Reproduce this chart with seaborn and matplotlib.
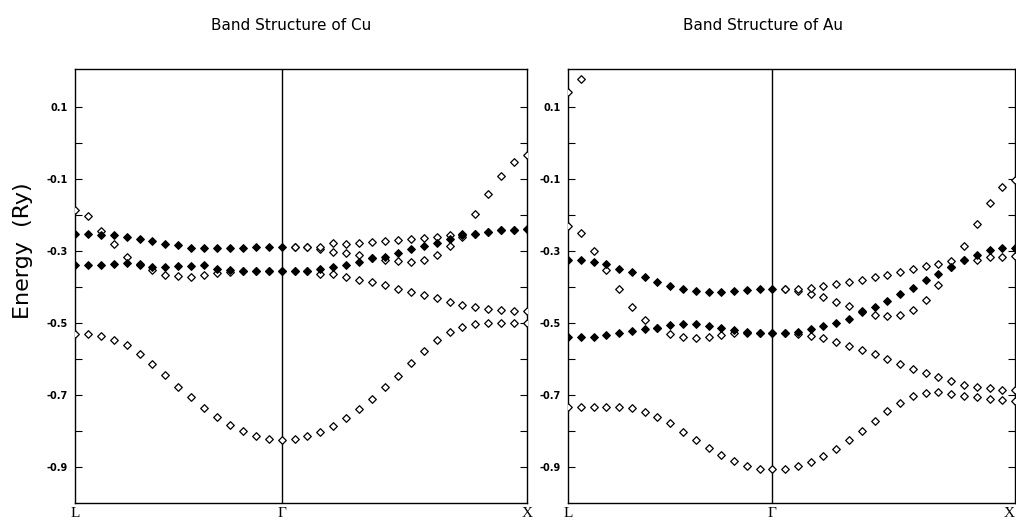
import matplotlib
matplotlib.use("Agg")
import numpy as np
import pandas as pd
import matplotlib.pyplot as plt
import seaborn as sns

# -------------------------
# k-point index along L -> Gamma -> X (Gamma at 16, X at 35)
# -------------------------
k_lg = list(range(0, 17))
k_gx = list(range(17, 36))
k_ticks = [0, 16, 35]
k_labels = ["L", "Γ", "X"]

y_major = [0.1, -0.1, -0.3, -0.5, -0.7, -0.9]
y_minor = [0.0, -0.2, -0.4, -0.6, -0.8]

# -------------------------
# Cu bands (Ry)
# -------------------------
cu_lg_1 = [-0.532, -0.532, -0.537, -0.546, -0.562, -0.585, -0.613, -0.644, -0.677,
           -0.707, -0.736, -0.762, -0.782, -0.800, -0.813, -0.821, -0.824]
cu_lg_2 = [-0.339, -0.339, -0.339, -0.337, -0.333, -0.338, -0.345, -0.346, -0.342,
           -0.341, -0.340, -0.349, -0.352, -0.356, -0.356, -0.356, -0.356]
cu_lg_3 = [-0.187, -0.204, -0.245, -0.282, -0.317, -0.335, -0.352, -0.367, -0.370,
           -0.372, -0.367, -0.360, -0.358, -0.356, -0.356, -0.356, -0.356]
cu_lg_4 = [-0.252, -0.252, -0.255, -0.256, -0.261, -0.268, -0.273, -0.280, -0.284,
           -0.291, -0.291, -0.291, -0.291, -0.291, -0.288, -0.288, -0.289]

cu_gx_1 = [-0.822, -0.814, -0.803, -0.786, -0.765, -0.740, -0.711, -0.679, -0.647, -0.612,
           -0.578, -0.548, -0.526, -0.512, -0.504, -0.501, -0.501, -0.500, -0.500]
cu_gx_2 = [-0.356, -0.356, -0.363, -0.363, -0.372, -0.380, -0.386, -0.395, -0.405, -0.414,
           -0.423, -0.432, -0.442, -0.451, -0.456, -0.462, -0.465, -0.468, -0.468]
cu_gx_3 = [-0.356, -0.356, -0.349, -0.344, -0.340, -0.331, -0.321, -0.317, -0.307, -0.296,
           -0.287, -0.279, -0.267, -0.256, -0.252, -0.247, -0.243, -0.241, -0.238]
cu_gx_4 = [-0.289, -0.289, -0.296, -0.303, -0.307, -0.312, -0.321, -0.326, -0.329, -0.331,
           -0.326, -0.312, -0.287, -0.262, -0.252, -0.247, -0.243, -0.241, -0.238]
cu_gx_5 = [-0.289, -0.289, -0.289, -0.278, -0.281, -0.278, -0.275, -0.273, -0.269, -0.266,
           -0.263, -0.261, -0.256, -0.254, -0.198, -0.143, -0.093, -0.053, -0.034]

# -------------------------
# Au bands (Ry)
# -------------------------
au_lg_1 = [-0.733, -0.733, -0.733, -0.733, -0.733, -0.737, -0.747, -0.761, -0.779,
           -0.803, -0.826, -0.847, -0.868, -0.884, -0.896, -0.905, -0.906]
au_lg_2 = [-0.540, -0.540, -0.539, -0.534, -0.528, -0.523, -0.518, -0.515, -0.506,
           -0.504, -0.504, -0.508, -0.514, -0.520, -0.524, -0.528, -0.528]
au_lg_3 = [-0.231, -0.250, -0.300, -0.354, -0.407, -0.456, -0.491, -0.515, -0.531,
           -0.539, -0.542, -0.540, -0.534, -0.528, -0.528, -0.528, -0.528]
au_lg_4 = [-0.326, -0.326, -0.331, -0.337, -0.349, -0.359, -0.372, -0.385, -0.398,
           -0.407, -0.411, -0.414, -0.414, -0.411, -0.409, -0.407, -0.407]
au_lg_5 = [0.142, 0.176]

au_gx_1 = [-0.905, -0.898, -0.886, -0.869, -0.850, -0.826, -0.800, -0.772, -0.744, -0.721,
           -0.704, -0.695, -0.693, -0.697, -0.702, -0.706, -0.711, -0.715, -0.717]
au_gx_2 = [-0.528, -0.530, -0.537, -0.543, -0.553, -0.564, -0.576, -0.587, -0.601, -0.614,
           -0.627, -0.640, -0.650, -0.661, -0.671, -0.678, -0.682, -0.685, -0.686]
au_gx_3 = [-0.528, -0.526, -0.518, -0.509, -0.500, -0.488, -0.470, -0.456, -0.439, -0.420,
           -0.402, -0.381, -0.363, -0.344, -0.326, -0.312, -0.298, -0.293, -0.293]
au_gx_4 = [-0.407, -0.410, -0.421, -0.429, -0.443, -0.454, -0.467, -0.477, -0.480, -0.477,
           -0.465, -0.437, -0.395, -0.344, -0.326, -0.324, -0.318, -0.317, -0.315]
au_gx_5 = [-0.407, -0.405, -0.402, -0.398, -0.393, -0.386, -0.380, -0.372, -0.366, -0.358,
           -0.351, -0.342, -0.337, -0.329, -0.286, -0.226, -0.167, -0.122, -0.102]

# filled diamonds mark the degenerate bands
cu_sets = [(k_lg, cu_lg_1, "open"), (k_lg, cu_lg_2, "filled"), (k_lg, cu_lg_3, "open"),
           (k_lg, cu_lg_4, "filled"), (k_gx, cu_gx_1, "open"), (k_gx, cu_gx_2, "open"),
           (k_gx, cu_gx_3, "filled"), (k_gx, cu_gx_4, "open"), (k_gx, cu_gx_5, "open")]
au_sets = [(k_lg, au_lg_1, "open"), (k_lg, au_lg_2, "filled"), (k_lg, au_lg_3, "open"),
           (k_lg, au_lg_4, "filled"), (k_lg, au_lg_5, "open"), (k_gx, au_gx_1, "open"),
           (k_gx, au_gx_2, "open"), (k_gx, au_gx_3, "filled"), (k_gx, au_gx_4, "open"),
           (k_gx, au_gx_5, "open")]


def to_frame(sets):
    rows = []
    for ks, vals, fill in sets:
        for k, e in zip(ks, vals):
            rows.append({"k": k, "energy": e, "fill": fill})
    return pd.DataFrame(rows)


sns.set_style("white")
plt.rcParams["font.family"] = ["DejaVu Sans"]
plt.rcParams["text.color"] = "black"
plt.rcParams["xtick.color"] = "black"
plt.rcParams["ytick.color"] = "black"

fig = plt.figure(figsize=(10.16, 5.23), dpi=100)
ax_cu = fig.add_axes([0.0738, 0.0382, 0.4449, 0.8298])
ax_au = fig.add_axes([0.5591, 0.0382, 0.4400, 0.8298])

for ax, sets in [(ax_cu, cu_sets), (ax_au, au_sets)]:
    df = to_frame(sets)
    sns.scatterplot(data=df[df["fill"] == "open"], x="k", y="energy", marker="D", s=15,
                    facecolor="white", edgecolor="black", linewidth=0.9, ax=ax, zorder=3)
    sns.scatterplot(data=df[df["fill"] == "filled"], x="k", y="energy", marker="D", s=15,
                    facecolor="black", edgecolor="black", linewidth=0.9, ax=ax, zorder=3)
    ax.axvline(k_ticks[1], color="black", lw=1.0, zorder=2)
    ax.set_xlim(k_ticks[0], k_ticks[-1])
    ax.set_ylim(-1.0, 0.205)
    ax.set_xticks(k_ticks)
    ax.set_xticklabels(k_labels, fontfamily="Liberation Serif", fontsize=11)
    ax.tick_params(axis="x", length=0, pad=3)
    ax.set_yticks(y_major)
    ax.set_yticklabels([f"{v:.1f}" for v in y_major], fontsize=7, fontweight="bold")
    ax.set_yticks(y_minor, minor=True)
    ax.tick_params(axis="y", which="both", direction="in", length=5, width=0.8,
                   left=True, right=True, pad=5)
    ax.set_xlabel("")
    ax.set_ylabel("")
    for sp in ax.spines.values():
        sp.set_color("black")
        sp.set_linewidth(1.0)

# last X label sits on the figure edge; keep it inside
ax_au.get_xticklabels()[-1].set_horizontalalignment("right")

fig.text(0.287, 0.952, "Band Structure of Cu", ha="center", va="center", fontsize=11)
fig.text(0.751, 0.952, "Band Structure of Au", ha="center", va="center", fontsize=11)
fig.text(0.023, 0.52, "Energy  (Ry)", ha="center", va="center", rotation=90, fontsize=16)

fig.savefig("out.png", dpi=100)
